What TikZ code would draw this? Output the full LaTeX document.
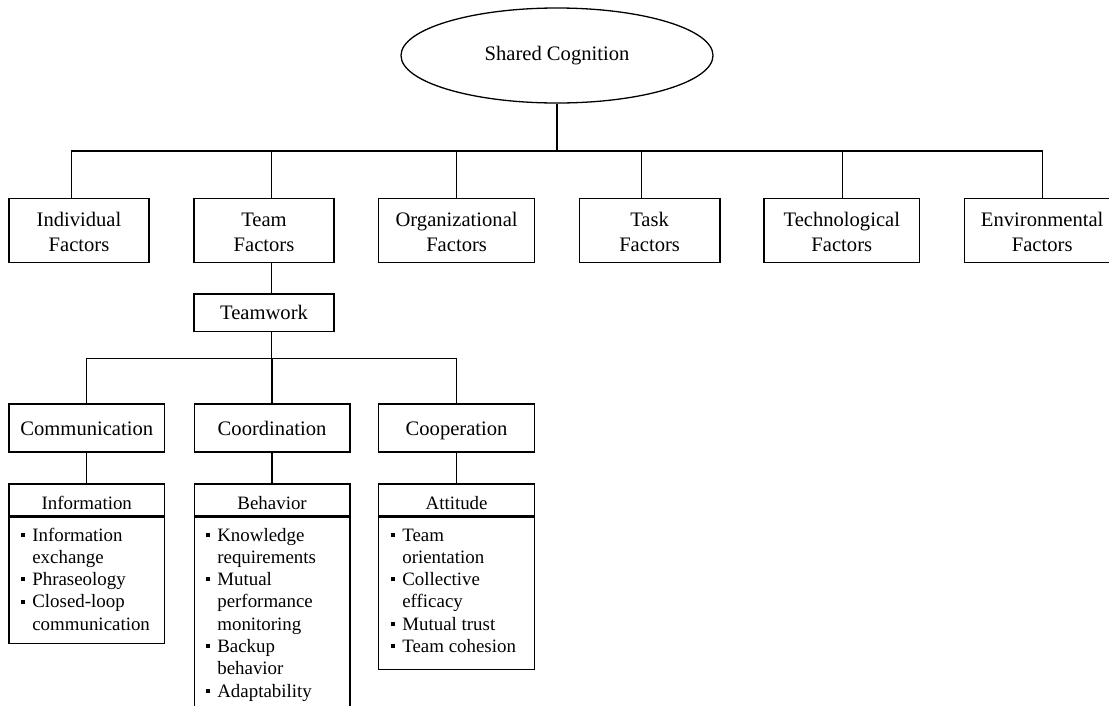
\documentclass[tikz,border=0pt]{standalone}
\usepackage{fontspec}
\setmainfont{Liberation Serif}
\usetikzlibrary{shapes.geometric}
\newcommand{\bul}{\makebox[11.7pt][l]{\rule[4.2pt]{4pt}{4pt}}}
\newcommand{\contind}{\hspace*{11.7pt}}
\begin{document}
\begin{tikzpicture}[x=1pt,y=-1pt,line width=1.3pt,
  big/.style={font=\fontsize{20.6}{25}\selectfont},
  small/.style={font=\fontsize{18.9}{22.3}\selectfont},
  box/.style={draw,rectangle,inner sep=0pt,align=center,big},
  twoline/.style={box,minimum height=63.5,text height=41,text depth=0},
  oneline/.style={box,text height=16,text depth=2},
  hbox/.style={draw,rectangle,inner sep=0pt,small,minimum height=32,text height=19.4,text depth=0},
  lst/.style={anchor=base west,inner sep=0pt,align=left,small}]
\clip (0,0) rectangle (1109,705);
% root
\node[draw,ellipse,minimum width=312,minimum height=95,inner sep=0pt,big] (sc) at (557,55.5) {Shared Cognition};
% top row
\node[twoline,minimum width=140] (ind) at (79,230.5) {Individual\\Factors};
\node[twoline,minimum width=140] (team) at (264,230.5) {Team\\Factors};
\node[twoline,minimum width=156] (org) at (456.6,230.5) {Organizational\\Factors};
\node[twoline,minimum width=140.7] (task) at (649.6,230.5) {Task\\Factors};
\node[twoline,minimum width=155.6] (tech) at (841.8,230.5) {Technological\\Factors};
\node[twoline,minimum width=155.6] (env) at (1042.2,230.5) {Environmental\\Factors};
\coordinate (bar) at (557,151);
\draw (sc.south) -- (bar);
\draw ([xshift=-7.3]ind.north) |- (bar) -| ([xshift=0.6]env.north);
\draw ([xshift=7.7]team.north) -- ([xshift=7.7]team.north |- bar);
\draw (org.north) -- (org.north |- bar);
\draw ([xshift=-7.9]task.north) -- ([xshift=-7.9]task.north |- bar);
\draw ([xshift=0.5]tech.north) -- ([xshift=0.5]tech.north |- bar);
% teamwork
\node[oneline,minimum width=140,minimum height=37.7] (tw) at (264,312.9) {Teamwork};
\draw ([xshift=7.7]team.south) -- ([xshift=7.7]tw.north);
\coordinate (bar2) at (271.7,358.3);
\draw ([xshift=7.7]tw.south) -- (bar2);
% second level
\node[oneline,minimum width=155.7,minimum height=48] (comm) at (86.8,428) {Communication};
\node[oneline,minimum width=155.7,minimum height=48] (coord) at (272.1,428) {Coordination};
\node[oneline,minimum width=155.7,minimum height=48] (coop) at (456.6,428) {Cooperation};
\draw (comm.north) |- (bar2) -| (coop.north);
\draw (coord.north) -- (coord.north |- bar2);
% headers
\node[hbox,minimum width=155.7] (infoh) at (86.8,500) {Information};
\node[hbox,minimum width=155.7] (behh) at (272.1,500) {Behavior};
\node[hbox,minimum width=155.7] (atth) at (456.6,500) {Attitude};
\draw (comm.south) -- (infoh.north);
\draw (coord.south) -- (behh.north);
\draw (coop.south) -- (atth.north);
% bodies
\node[draw,rectangle,inner sep=0pt,minimum width=155.7,minimum height=126,anchor=north] (infob) at (infoh.south) {};
\node[draw,rectangle,inner sep=0pt,minimum width=155.7,minimum height=260,anchor=north] (behb) at (behh.south) {};
\node[draw,rectangle,inner sep=0pt,minimum width=155.7,minimum height=152,anchor=north] (attb) at (atth.south) {};
% lists (base anchor = baseline of the last line)
\node[lst] (infol) at (20,630.2) {\bul Information\\\contind exchange\\\bul Phraseology\\\bul Closed-loop\\\contind communication};
\node[lst] (behl) at (205,697.1) {\bul Knowledge\\\contind requirements\\\bul Mutual\\\contind performance\\\contind monitoring\\\bul Backup\\\contind behavior\\\bul Adaptability};
\node[lst] (attl) at (390,652.5) {\bul Team\\\contind orientation\\\bul Collective\\\contind efficacy\\\bul Mutual trust\\\bul Team cohesion};
\end{tikzpicture}
\end{document}
